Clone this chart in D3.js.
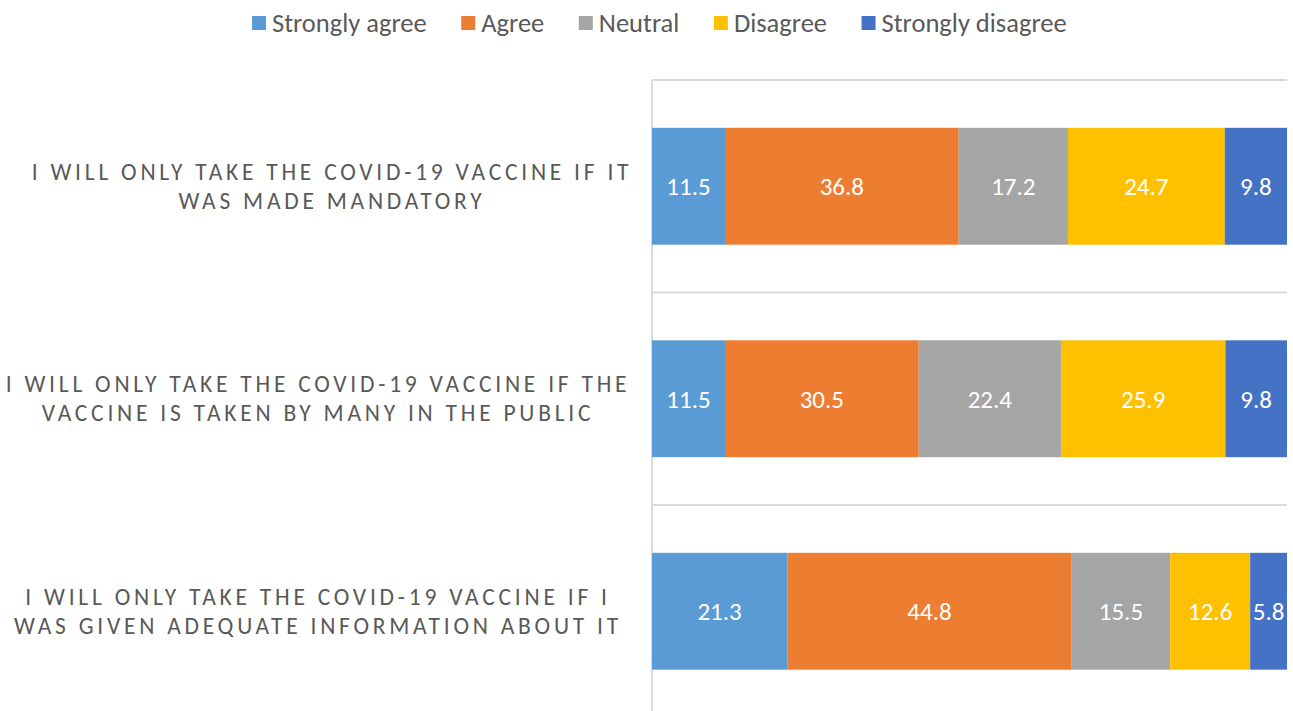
<!DOCTYPE html>
<html><head><meta charset="utf-8">
<script src="https://cdn.jsdelivr.net/npm/d3@7"></script>
<style>body{margin:0;background:#fff;} svg{display:block;}</style>
</head><body>
<svg id="c" width="1293" height="711"></svg>
<script>
const categories = [
  ["I WILL ONLY TAKE THE COVID-19 VACCINE IF IT", "WAS MADE MANDATORY"],
  ["I WILL ONLY TAKE THE COVID-19 VACCINE IF THE", "VACCINE IS TAKEN BY MANY IN THE PUBLIC"],
  ["I WILL ONLY TAKE THE COVID-19 VACCINE IF I", "WAS GIVEN ADEQUATE INFORMATION ABOUT IT"]
];
const seriesNames = ["Strongly agree", "Agree", "Neutral", "Disagree", "Strongly disagree"];
const stronglyAgree = [11.5, 11.5, 21.3];
const agree = [36.8, 30.5, 44.8];
const neutral = [17.2, 22.4, 15.5];
const disagree = [24.7, 25.9, 12.6];
const stronglyDisagree = [9.8, 9.8, 5.8];
const colors = ["#5B9BD5", "#ED7D31", "#A5A5A5", "#FFC000", "#4472C4"];

const seriesValues = [stronglyAgree, agree, neutral, disagree, stronglyDisagree];
const rows = categories.map((c, i) => {
  const r = {key: i};
  seriesNames.forEach((s, j) => r[s] = seriesValues[j][i]);
  return r;
});

const svg = d3.select("#c");
const font = "Calibri, Carlito, 'Open Sans', sans-serif";
const pLeft = 652, pRight = 1287, pTop = 80, pBottom = 717.5;

const x = d3.scaleLinear().domain([0, 100]).range([pLeft, pRight]);
const y = d3.scaleBand().domain(d3.range(categories.length)).range([pTop, pBottom]).paddingInner(0.45).paddingOuter(0.225);

const step = y.step();
const gridYs = d3.range(categories.length + 1).map(i => pTop + i * step);
svg.append("g").selectAll("line").data(gridYs).join("line")
  .attr("x1", pLeft).attr("x2", pRight).attr("y1", d => d).attr("y2", d => d)
  .attr("stroke", "#D9D9D9").attr("stroke-width", 2);
svg.append("line").attr("x1", pLeft).attr("x2", pLeft).attr("y1", pTop).attr("y2", 711)
  .attr("stroke", "#D9D9D9").attr("stroke-width", 2);

const stack = d3.stack().keys(seriesNames)(rows);
const g = svg.append("g");
stack.forEach((layer, j) => {
  g.append("g").attr("fill", colors[j]).selectAll("rect").data(layer).join("rect")
    .attr("x", d => x(d[0])).attr("width", d => Math.min(x(d[1]), pRight) - x(d[0]))
    .attr("y", (d, i) => y(i)).attr("height", y.bandwidth());
  g.append("g").selectAll("text").data(layer).join("text")
    .attr("x", d => (x(d[0]) + Math.min(x(d[1]), pRight)) / 2)
    .attr("y", (d, i) => y(i) + y.bandwidth() / 2)
    .attr("dy", "0.35em").attr("text-anchor", "middle")
    .attr("fill", "#fff").attr("font-family", font).attr("font-size", 25)
    .text(d => (d[1] - d[0]).toFixed(1));
});

const cl = svg.append("g");
categories.forEach((lines, i) => {
  const cy = y(i) + y.bandwidth() / 2;
  const cx = i === 0 ? 332 : 318;
  lines.forEach((ln, k) => {
    cl.append("text").attr("x", cx).attr("y", cy + (k - 0.5) * 29)
      .attr("dy", "0.35em").attr("text-anchor", "middle")
      .attr("fill", "#595959").attr("font-family", font).attr("font-size", 23.5)
      .attr("letter-spacing", 3.75).text(ln);
  });
});

const lg = svg.append("g");
let lx = 252;
seriesNames.forEach((s, j) => {
  lg.append("rect").attr("x", lx).attr("y", 16).attr("width", 14).attr("height", 14).attr("fill", colors[j]);
  const t = lg.append("text").attr("x", lx + 20).attr("y", 23).attr("dy", "0.35em")
    .attr("fill", "#595959").attr("font-family", font).attr("font-size", 26.5).text(s);
  lx += 20 + t.node().getComputedTextLength() + 34.5;
});
</script>
</body></html>
